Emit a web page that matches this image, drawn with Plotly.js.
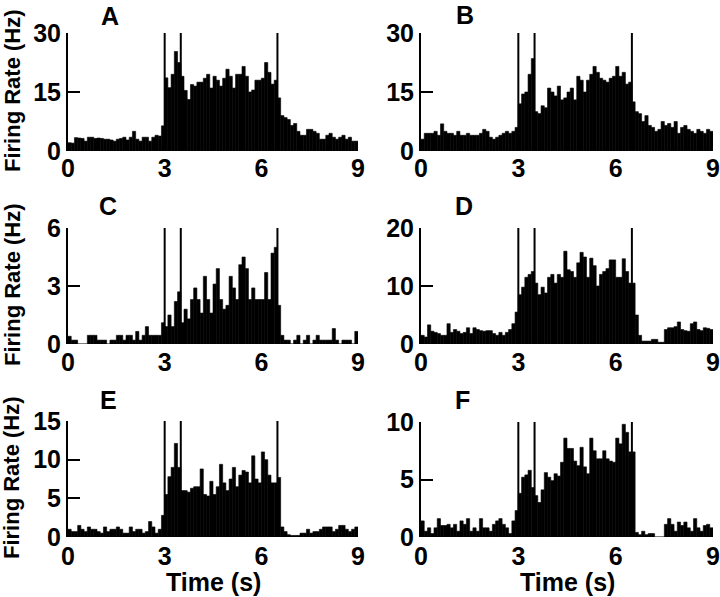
<!DOCTYPE html>
<html>
<head>
<meta charset="utf-8">
<script src="https://cdn.plot.ly/plotly-3.0.1.min.js"></script>
<style>
  html, body { margin: 0; padding: 0; background: #fff; }
  #chart { width: 720px; height: 597px; }
</style>
</head>
<body>
<div id="chart"></div>
<script>
// firing rate per 0.1 s bin, 0 - 9 s (90 bins per panel)
var rateA = [
  2.1, 2.0, 3.4, 3.3, 3.2, 2.5, 3.5, 3.5, 3.2, 3.3,
  3.2, 3.0, 3.0, 2.8, 2.5, 3.0, 3.2, 3.5, 2.8, 3.5,
  5.0, 3.0, 2.5, 3.5, 3.5, 2.5, 3.5, 4.0, 3.8, 6.4,
  18.6, 16.1, 19.5, 25.3, 22.5, 19.0, 15.4, 13.1, 16.9, 16.5,
  17.5, 17.5, 18.5, 19.5, 16.0, 19.0, 18.0, 16.5, 18.5, 20.8,
  19.0, 16.0, 19.5, 19.5, 21.5, 19.0, 15.0, 15.5, 18.0, 18.0,
  18.5, 22.5, 20.0, 17.0, 18.0, 13.5, 9.0, 8.5, 8.0, 6.5,
  7.0, 5.0, 4.0, 4.0, 5.5, 5.5, 5.0, 4.5, 3.0, 3.0,
  4.0, 4.5, 3.5, 3.0, 3.5, 4.0, 3.0, 3.5, 2.5, 2.5
];
var rateB = [
  3.0, 4.5, 4.5, 4.5, 5.0, 4.0, 6.9, 5.0, 4.5, 4.5,
  4.0, 5.0, 4.0, 4.0, 4.5, 4.0, 4.0, 4.0, 4.5, 5.5,
  5.0, 3.5, 3.0, 3.5, 4.0, 4.5, 5.0, 4.5, 5.0, 6.0,
  12.0, 14.5, 15.0, 19.5, 23.5, 10.0, 9.5, 11.5, 11.0, 16.0,
  15.0, 14.0, 16.5, 13.0, 13.5, 15.0, 16.0, 13.0, 19.0, 18.0,
  15.0, 18.0, 19.5, 21.5, 20.0, 18.5, 18.0, 17.5, 18.5, 19.0,
  21.5, 19.0, 20.0, 17.0, 17.5, 12.5, 10.0, 9.5, 7.5, 9.0,
  6.5, 6.0, 5.0, 5.5, 7.5, 6.5, 7.0, 6.0, 7.5, 4.5,
  6.0, 6.5, 5.5, 5.0, 4.5, 5.5, 5.0, 4.5, 5.5, 5.0
];
var rateC = [
  0.4, 0.2, 0.2, 0, 0, 0, 0.45, 0.45, 0.45, 0.2,
  0.2, 0.2, 0, 0.2, 0.2, 0.45, 0.45, 0.2, 0.45, 0.45,
  0.2, 0.65, 0.2, 0.45, 0.9, 0.45, 0.45, 0.45, 0.45, 1.1,
  0.9, 1.5, 0.9, 2.2, 2.7, 1.1, 1.8, 1.3, 2.3, 2.9,
  2.3, 1.6, 3.5, 2.3, 1.6, 3.1, 3.9, 2.3, 1.8, 2.0,
  3.5, 2.9, 2.3, 4.1, 4.5, 3.9, 2.3, 2.9, 2.3, 2.3,
  2.3, 3.7, 2.3, 4.7, 5.0, 2.0, 0.45, 0.2, 0.2, 0,
  0.2, 0.45, 0, 0.2, 0.45, 0, 0.2, 0.45, 0.2, 0.2,
  0.2, 0.2, 0.8, 0.2, 0, 0.2, 0.2, 0.2, 0, 0.65
];
var rateD = [
  1.5, 1.2, 3.3, 2.2, 2.0, 1.8, 1.5, 1.5, 3.5, 2.0,
  2.5, 2.2, 1.8, 2.0, 2.8, 1.8, 2.8, 2.5, 2.3, 2.2,
  2.3, 2.3, 1.8, 1.5, 2.0, 1.5, 2.0, 2.5, 3.5, 5.5,
  8.5, 9.8, 11.5, 12.0, 12.5, 10.5, 8.5, 9.8, 8.8, 11.5,
  12.0, 10.5, 12.0, 11.5, 16.0, 12.8, 12.5, 11.5, 14.0, 15.8,
  15.0, 11.5, 14.8, 13.5, 10.0, 12.0, 12.5, 13.0, 14.5, 14.5,
  11.5, 11.5, 14.7, 12.5, 10.5, 10.5, 5.0, 1.5, 0.5, 0.5,
  0.5, 0.8, 0.8, 0.3, 0.3, 2.5, 2.8, 2.8, 3.0, 3.8,
  2.5, 2.3, 2.2, 3.5, 3.8, 2.5, 2.3, 2.8, 2.7, 2.5
];
var rateE = [
  1.0, 0.7, 0.7, 1.5, 1.0, 0.7, 1.3, 1.0, 1.0, 0.7,
  0.5, 1.3, 0.7, 1.0, 1.0, 1.3, 1.0, 0.5, 0.5, 1.3,
  0.7, 1.0, 1.0, 0.5, 0.7, 2.0, 1.3, 0.5, 1.0, 2.8,
  5.5, 7.8, 9.0, 12.1, 9.0, 6.0, 6.0, 5.8, 6.3, 6.5,
  6.5, 8.8, 5.5, 5.3, 7.2, 5.5, 6.5, 9.4, 7.0, 6.0,
  7.5, 9.0, 6.5, 8.0, 8.6, 8.4, 7.0, 10.5, 7.5, 7.0,
  11.0, 10.0, 8.0, 7.0, 7.0, 7.7, 1.3, 0.7, 0.3, 0.2,
  0.2, 0.2, 0.5, 0.5, 1.0, 0.5, 0.7, 0.7, 1.0, 1.3,
  1.3, 1.3, 0.7, 1.0, 1.5, 1.5, 1.0, 0.7, 1.0, 1.3
];
var rateF = [
  1.4, 0.5, 0.8, 0.3, 0.8, 1.6, 1.0, 1.0, 1.1, 0.8,
  1.1, 0.5, 1.4, 1.1, 1.6, 0.5, 0.8, 0.5, 1.6, 0.8,
  0.8, 0.5, 1.1, 1.4, 1.6, 1.1, 0.8, 0.3, 1.4, 2.3,
  3.8, 5.2, 5.4, 5.8, 4.3, 3.6, 3.0, 4.1, 5.6, 5.2,
  4.9, 5.5, 5.3, 6.5, 8.6, 7.7, 7.7, 6.6, 6.2, 7.8,
  6.1, 5.5, 8.6, 7.5, 6.8, 6.8, 7.5, 6.8, 6.6, 6.5,
  8.6, 8.1, 9.8, 9.1, 7.4, 7.4, 0.4, 0.2, 0.5, 0.2,
  0.3, 0.3, 0, 0, 0, 1.1, 1.6, 1.1, 0.5, 1.3,
  1.0, 1.3, 0.8, 0.5, 1.6, 0.8, 0.5, 1.0, 1.1, 0.8
];

var binWidth = 0.1;
var eventTimes = [3, 3.5, 6.5];
var timeTicks = [0, 3, 6, 9];
var panelLabels = ['A', 'B', 'C', 'D', 'E', 'F'];
var yTicksA = [0, 15, 30];
var yTicksB = [0, 15, 30];
var yTicksC = [0, 3, 6];
var yTicksD = [0, 10, 20];
var yTicksE = [0, 5, 10, 15];
var yTicksF = [0, 5, 10];
var yTitle = 'Firing Rate (Hz)';
var xTitle = 'Time (s)';

var W = 720, H = 597;
function px(x) { return x / W; }
function py(y) { return 1 - y / H; }

var font = 'Liberation Sans, Arial, Helvetica, sans-serif';

// pixel boxes of the six panels: [left, right, top, bottom]
var boxes = [
  [68, 358, 33, 151], [421, 713, 33, 151],
  [68, 358, 228, 344], [421, 713, 228, 344],
  [68, 358, 421, 537], [421, 713, 422, 537]
];
var labelPos = [[110, 16], [465, 15], [108, 206], [464, 206], [108, 400], [462, 400]];
var standoffs = [0, 0, 1, 1, 2, 2];

var rates = [rateA, rateB, rateC, rateD, rateE, rateF];
var yTicks = [yTicksA, yTicksB, yTicksC, yTicksD, yTicksE, yTicksF];

var data = [];
var layout = {
  width: W,
  height: H,
  margin: {l: 0, r: 0, t: 0, b: 0},
  paper_bgcolor: 'white',
  plot_bgcolor: 'white',
  showlegend: false,
  bargap: 0,
  font: {family: font, color: 'black'},
  shapes: [],
  annotations: []
};

for (var i = 0; i < 6; i++) {
  var n = i === 0 ? '' : String(i + 1);
  var b = boxes[i];
  var ticks = yTicks[i];
  var ymax = ticks[ticks.length - 1];

  data.push({
    type: 'bar',
    x0: binWidth / 2,
    dx: binWidth,
    y: rates[i],
    width: binWidth,
    xaxis: 'x' + n,
    yaxis: 'y' + n,
    marker: {color: 'black', line: {color: 'black', width: 0.6}},
    hoverinfo: 'skip'
  });

  layout['xaxis' + n] = {
    domain: [px(b[0]), px(b[1])],
    anchor: 'y' + n,
    range: [0, 9],
    tickvals: timeTicks,
    ticks: '',
    showline: false,
    showgrid: false,
    zeroline: false,
    tickfont: {family: font, size: 25, weight: 'bold', color: 'black'},
    ticklabelstandoff: standoffs[i]
  };
  layout['yaxis' + n] = {
    domain: [py(b[3]), py(b[2])],
    anchor: 'x' + n,
    range: [0, ymax],
    tickvals: ticks,
    ticks: 'inside',
    ticklen: 12,
    tickwidth: 2,
    tickcolor: 'black',
    showline: true,
    linewidth: 2,
    linecolor: 'black',
    showgrid: false,
    zeroline: false,
    tickfont: {family: font, size: 25, weight: 'bold', color: 'black'}
  };

  eventTimes.forEach(function (t) {
    layout.shapes.push({
      type: 'line',
      xref: 'x' + n,
      yref: 'y' + n + ' domain',
      x0: t, x1: t, y0: 0, y1: 1,
      line: {color: 'black', width: 2}
    });
  });

  layout.annotations.push({
    text: panelLabels[i],
    xref: 'paper', yref: 'paper',
    x: px(labelPos[i][0]), y: py(labelPos[i][1]),
    xanchor: 'center', yanchor: 'middle',
    showarrow: false,
    font: {family: font, size: 25, weight: 'bold', color: 'black'}
  });

  if (i % 2 === 0) {
    layout.annotations.push({
      text: yTitle,
      xref: 'paper', yref: 'paper',
      x: px(12), y: py((b[2] + b[3]) / 2 - 1),
      xanchor: 'center', yanchor: 'middle',
      textangle: -90,
      showarrow: false,
      font: {family: font, size: 22, weight: 'bold', color: 'black'}
    });
  }
  if (i >= 4) {
    layout.annotations.push({
      text: xTitle,
      xref: 'paper', yref: 'paper',
      x: px((b[0] + b[1]) / 2), y: py(582),
      xanchor: 'center', yanchor: 'middle',
      showarrow: false,
      font: {family: font, size: 25, weight: 'bold', color: 'black'}
    });
  }
}

Plotly.newPlot('chart', data, layout, {staticPlot: true});
</script>
</body>
</html>
